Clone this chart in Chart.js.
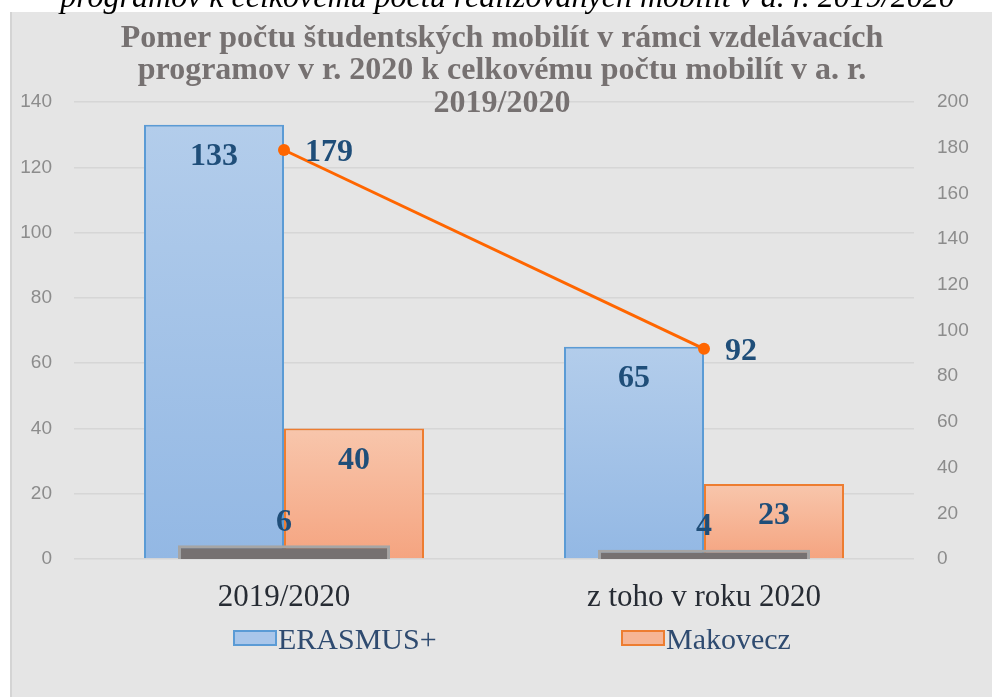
<!DOCTYPE html>
<html>
<head>
<meta charset="utf-8">
<script src="https://cdn.jsdelivr.net/npm/chart.js@4.4.0/dist/chart.umd.min.js"></script>
<style>
  body { margin: 0; background: #fff; width: 992px; height: 697px; overflow: hidden; position: relative; }
  #caption { position: absolute; left: 0; top: -20px; width: 1015px; text-align: center; white-space: nowrap;
             font: italic 32px/32px "Liberation Serif", serif; color: #000; z-index: 2; }
  #panel { position: absolute; left: 10px; top: 12px; width: 982px; height: 685px; box-sizing: border-box;
           background: #e5e5e5; border-left: 2px solid #d4d4d4; }
</style>
</head>
<body>
<div id="caption">programov k celkovému počtu realizovaných mobilít v a. r. 2019/2020</div>
<div id="panel"><canvas id="Chart"></canvas></div>
<script>
const categories = ['2019/2020', 'z toho v roku 2020'];
const erasmus = [133, 65];
const makovecz = [40, 23];
const ostatne = [6, 4];
const spolu = [179, 92];
const titleLines = [
  'Pomer počtu študentských mobilít v rámci vzdelávacích',
  'programov v r. 2020 k celkovému počtu mobilít v a. r.',
  '2019/2020'
];

const serif = '"Liberation Serif", "Times New Roman", serif';
const labelBlue = '#1f4e79';

// gradient per bar, from the bar top down to the axis
function barFill(top, bottom) {
  return (c) => {
    const chart = c.chart;
    if (c.type !== 'data' || !chart.chartArea) return bottom;
    const y0 = chart.scales.y.getPixelForValue(c.dataset.data[c.dataIndex]);
    const g = chart.ctx.createLinearGradient(0, y0, 0, chart.chartArea.bottom);
    g.addColorStop(0, top);
    g.addColorStop(1, bottom);
    return g;
  };
}

// value labels drawn next to the bars / points
const valueLabels = {
  id: 'valueLabels',
  afterDatasetsDraw(chart) {
    const ctx = chart.ctx;
    ctx.save();
    ctx.font = 'bold 32px ' + serif;
    ctx.fillStyle = labelBlue;
    ctx.textBaseline = 'middle';
    chart.data.datasets.forEach((ds, i) => {
      const meta = chart.getDatasetMeta(i);
      meta.data.forEach((el, j) => {
        const v = ds.data[j];
        if (ds.type === 'line') {
          ctx.textAlign = 'left';
          ctx.fillText(v, el.x + 21, el.y + 3);
        } else if (ds.grouped === false) {
          ctx.textAlign = 'center';
          ctx.fillText(v, el.x, el.y - 23);
        } else {
          ctx.textAlign = 'center';
          ctx.fillText(v, el.x, el.y + 32);
        }
      });
    });
    ctx.restore();
  }
};

// legend with only the two bar series, spread wide like the original
const wideLegend = {
  id: 'wideLegend',
  afterDraw(chart) {
    const ctx = chart.ctx;
    const a = chart.chartArea;
    const items = [
      { text: 'ERASMUS+', fill: '#a9c6ea', stroke: '#5b9bd5', x: a.left + 160 },
      { text: 'Makovecz', fill: '#f6b595', stroke: '#ed7d31', x: a.left + 548 }
    ];
    ctx.save();
    ctx.font = '30px ' + serif;
    ctx.textBaseline = 'alphabetic';
    ctx.textAlign = 'left';
    items.forEach(it => {
      ctx.fillStyle = it.fill;
      ctx.strokeStyle = it.stroke;
      ctx.lineWidth = 2;
      ctx.fillRect(it.x, 619, 42, 14);
      ctx.strokeRect(it.x, 619, 42, 14);
      ctx.fillStyle = '#2f4b70';
      ctx.fillText(it.text, it.x + 44, 637);
    });
    ctx.restore();
  }
};

new Chart(document.getElementById('Chart'), {
  type: 'bar',
  data: {
    labels: categories,
    datasets: [{
      label: 'ERASMUS+',
      data: erasmus,
      backgroundColor: barFill('#b3cdeb', '#93b8e4'),
      borderColor: '#5b9bd5',
      borderWidth: 2,
      barPercentage: 1,
      categoryPercentage: 2 / 3,
      order: 2
    }, {
      label: 'Makovecz',
      data: makovecz,
      backgroundColor: barFill('#f8c6ac', '#f5a480'),
      borderColor: '#ed7d31',
      borderWidth: 2,
      barPercentage: 1,
      categoryPercentage: 2 / 3,
      order: 3
    }, {
      label: 'ostatné',
      data: ostatne,
      yAxisID: 'y1',
      grouped: false,
      backgroundColor: '#767171',
      borderColor: '#a5a5a5',
      borderWidth: 3,
      barPercentage: 1,
      categoryPercentage: 0.505,
      order: 1
    }, {
      type: 'line',
      label: 'spolu',
      data: spolu,
      yAxisID: 'y1',
      borderColor: '#ff6600',
      backgroundColor: '#ff6600',
      borderWidth: 3,
      pointRadius: 6,
      pointBorderWidth: 0,
      pointBackgroundColor: '#ff6600',
      order: 0
    }]
  },
  options: {
    responsive: true,
    maintainAspectRatio: false,
    animation: false,
    layout: { padding: { left: 0, right: 0, top: 0, bottom: 78 } },
    plugins: {
      legend: { display: false },
      tooltip: { enabled: false },
      title: {
        display: true,
        text: titleLines,
        color: '#767171',
        font: { family: serif, size: 32, weight: 'bold', lineHeight: 32.5 / 32 },
        padding: { top: 10, bottom: -17.5 }
      }
    },
    scales: {
      x: {
        offset: true,
        grid: { display: false },
        border: { display: false },
        ticks: { color: '#262b33', font: { family: serif, size: 31 }, padding: 12 },
        afterFit: s => { s.height = 60; }
      },
      y: {
        position: 'left',
        min: 0,
        max: 140,
        ticks: { stepSize: 20, color: '#8c8c8c', font: { family: '"Liberation Sans", sans-serif', size: 19 }, padding: 22 },
        grid: { color: '#d6d6d6', lineWidth: 1.5, drawTicks: false },
        border: { display: false },
        afterFit: s => { s.width = 62; }
      },
      y1: {
        position: 'right',
        min: 0,
        max: 200,
        ticks: { stepSize: 20, color: '#8c8c8c', font: { family: '"Liberation Sans", sans-serif', size: 19 }, padding: 23 },
        grid: { display: false, drawTicks: false },
        border: { display: false },
        afterFit: s => { s.width = 78; }
      }
    }
  },
  plugins: [valueLabels, wideLegend]
});
</script>
</body>
</html>
